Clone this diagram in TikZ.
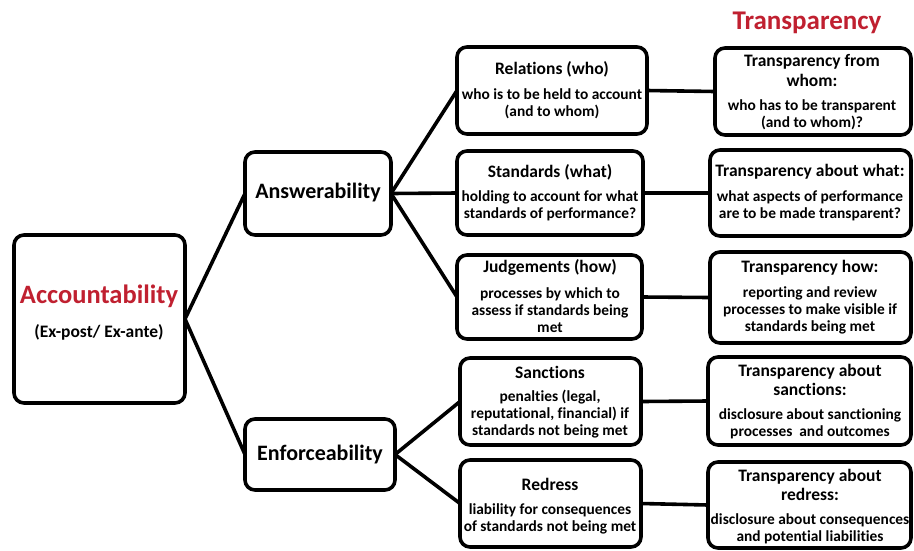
\documentclass[tikz,border=0pt]{standalone}
\usepackage{fontspec}
\setmainfont{Carlito}[Ligatures=NoCommon]
\definecolor{accred}{RGB}{192,32,48}
\begin{document}
\begin{tikzpicture}[x=1pt,y=-1pt,
  box/.style={draw=black, line width=3.6pt, rounded corners=10pt, inner sep=0pt, outer sep=0pt},
  link/.style={draw=black, line width=3.6pt},
  head/.style={inner sep=0pt, align=center, font=\bfseries\fontsize{17.5}{19.5}\selectfont},
  body/.style={inner sep=0pt, align=center, font=\bfseries\fontsize{15.4}{17}\selectfont},
  big/.style={inner sep=0pt, align=center, font=\bfseries\fontsize{22}{24}\selectfont}]
\useasboundingbox (0,0) rectangle (914,550);
\fill[white] (0,0) rectangle (914,550);
% boxes
\node[box, minimum width=171pt, minimum height=168pt] (acc) at (99.5,319) {};
\node[box, minimum width=146pt, minimum height=83pt] (ans) at (318,193.5) {};
\node[box, minimum width=150pt, minimum height=71pt] (enf) at (320,454.5) {};
\node[box, minimum width=190pt, minimum height=87pt] (rel) at (552,90.5) {};
\node[box, minimum width=186pt, minimum height=84pt] (std) at (550,193) {};
\node[box, minimum width=185pt, minimum height=84pt] (jud) at (549.5,297) {};
\node[box, minimum width=181pt, minimum height=87pt] (san) at (550.5,401.5) {};
\node[box, minimum width=181pt, minimum height=87pt] (red) at (550.5,503.5) {};
\node[box, minimum width=196pt, minimum height=87pt] (tw) at (813,91.5) {};
\node[box, minimum width=201pt, minimum height=86pt] (tww) at (810.5,193) {};
\node[box, minimum width=201pt, minimum height=91pt] (th) at (810.5,297.5) {};
\node[box, minimum width=203pt, minimum height=88pt] (ts) at (809.5,401) {};
\node[box, minimum width=203pt, minimum height=86pt] (tr) at (809.5,505) {};
% connectors
\draw[link] (acc.east) -- (ans.west);
\draw[link] (acc.east) -- (enf.west);
\draw[link] (ans.east) -- (rel.west);
\draw[link] (ans.east) -- (std.west);
\draw[link] (ans.east) -- (jud.west);
\draw[link] (enf.east) -- (san.west);
\draw[link] (enf.east) -- (red.west);
\draw[link] (rel.east) -- (tw.west);
\draw[link] (std.east) -- (tww.west);
\draw[link] (jud.east) -- (th.west);
\draw[link] (san.east) -- (ts.west);
\draw[link] (red.east) -- (tr.west);
% texts
\node[inner sep=0pt, text=accred, font=\bfseries\fontsize{27}{30}\selectfont] (title) at (807,23) {Transparency};
\node[inner sep=0pt, text=accred, font=\bfseries\fontsize{26.5}{30}\selectfont] (accT) at (99,296) {Accountability};
\node[inner sep=0pt, font=\bfseries\fontsize{17.5}{20}\selectfont] (accS) at (99,332) {(Ex-post/ Ex-ante)};
\node[big] (ansT) at (318,193) {Answerability};
\node[big] (enfT) at (320,455) {Enforceability};
\node[head] (relH) at (552,69) {Relations (who)};
\node[body] (relB) at (552,104) {who is to be held to account\\(and to whom)};
\node[head] (twH) at (812,70.5) {Transparency from\\whom:};
\node[body] (twB) at (812,114.5) {who has to be transparent\\(and to whom)?};
\node[head] (stdH) at (550,172) {Standards (what)};
\node[body] (stdB) at (550,205.5) {holding to account for what\\standards of performance?};
\node[head] (twwH) at (810,172) {Transparency about what:};
\node[body] (twwB) at (810,205.5) {what aspects of performance\\are to be made transparent?};
\node[head] (judH) at (550,267) {Judgements (how)};
\node[body] (judB) at (550,310) {processes by which to\\assess if standards being\\met};
\node[head] (thH) at (810,268) {Transparency how:};
\node[body] (thB) at (810,310) {reporting and review\\processes to make visible if\\standards being met};
\node[head] (sanH) at (550,372) {Sanctions};
\node[body] (sanB) at (550,414) {penalties (legal,\\reputational, financial) if\\standards not being met};
\node[head] (tsH) at (810,380) {Transparency about\\sanctions:};
\node[body] (tsB) at (810,424) {disclosure about sanctioning\\processes~~and outcomes};
\node[head] (redH) at (550,484) {Redress};
\node[body] (redB) at (550,518.5) {liability for consequences\\of standards not being met};
\node[head] (trH) at (810,485) {Transparency about\\redress:};
\node[body] (trB) at (810,528.5) {disclosure about consequences\\and potential liabilities};
\end{tikzpicture}
\end{document}
